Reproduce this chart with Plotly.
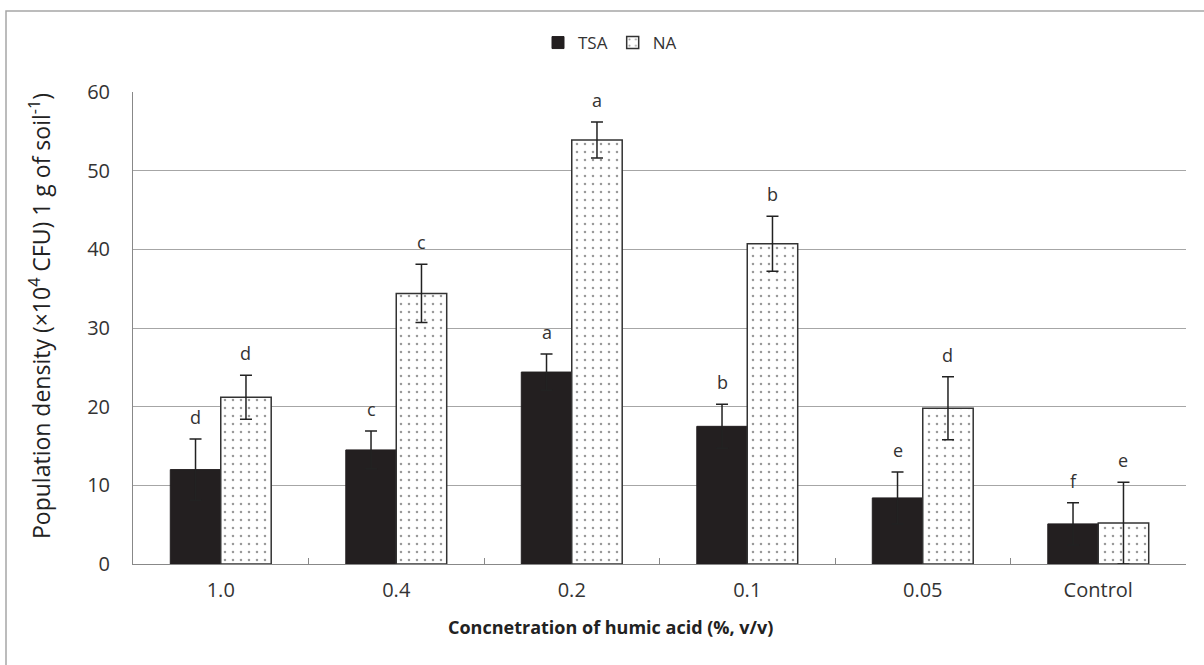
import plotly.graph_objects as go

categories = ["1.0", "0.4", "0.2", "0.1", "0.05", "Control"]
tsa_values = [12.0, 14.5, 24.4, 17.5, 8.4, 5.1]
tsa_errors = [3.9, 2.4, 2.3, 2.8, 3.3, 2.7]
tsa_letters = ["d", "c", "a", "b", "e", "f"]
na_values = [21.2, 34.4, 53.9, 40.7, 19.8, 5.2]
na_errors = [2.8, 3.7, 2.3, 3.5, 4.0, 5.2]
na_letters = ["d", "c", "a", "b", "d", "e"]

W, H = 1204, 665
L, R, T, B = 133, 18, 92, 101
pw, ph = W - L - R, H - T - B

def px_x(p):
    return (p - L) / pw

def px_y(p):
    return (H - B - p) / ph

font_family = "Open Sans, DejaVu Sans, sans-serif"
txt_color = "#333333"

fig = go.Figure()
fig.add_trace(go.Bar(
    name="TSA", x=categories, y=tsa_values,
    marker=dict(color="#231f20", line=dict(color="#231f20", width=1)),
    error_y=dict(type="data", array=tsa_errors, visible=True,
                 color="#222222", thickness=1.5, width=6),
))
fig.add_trace(go.Bar(
    name="NA", x=categories, y=na_values,
    marker=dict(color="white", line=dict(color="#333333", width=1.5),
                pattern=dict(shape=".", fgcolor="#333333", bgcolor="white",
                             size=8, solidity=0.08)),
    error_y=dict(type="data", array=na_errors, visible=True,
                 color="#222222", thickness=1.5, width=6),
))

annotations = []
for i, (v, e, lab) in enumerate(zip(tsa_values, tsa_errors, tsa_letters)):
    annotations.append(dict(x=i, y=v + e, text=lab, showarrow=False,
                            xshift=-25, yshift=8, yanchor="bottom",
                            font=dict(family=font_family, size=18, color=txt_color)))
for i, (v, e, lab) in enumerate(zip(na_values, na_errors, na_letters)):
    annotations.append(dict(x=i, y=v + e, text=lab, showarrow=False,
                            xshift=25, yshift=8, yanchor="bottom",
                            font=dict(family=font_family, size=18, color=txt_color)))

annotations.append(dict(
    xref="paper", yref="paper", x=px_x(610), y=px_y(627),
    text="<b>Concnetration of humic acid (%, v/v)</b>", showarrow=False,
    xanchor="center", yanchor="middle",
    font=dict(family=font_family, size=18, color="#222222")))
annotations.append(dict(
    xref="paper", yref="paper", x=px_x(40), y=px_y(316),
    text="Population density (×10<sup>4</sup> CFU) 1 g of soil<sup>-1</sup>)",
    showarrow=False, textangle=-90, xanchor="center", yanchor="middle",
    font=dict(family=font_family, size=23, color="#222222")))

fig.update_layout(
    width=W, height=H,
    margin=dict(l=L, r=R, t=T, b=B),
    paper_bgcolor="white", plot_bgcolor="white",
    barmode="group", bargap=0.425, bargroupgap=0,
    showlegend=True,
    legend=dict(orientation="h", x=px_x(610), xanchor="center",
                y=px_y(43), yanchor="middle",
                font=dict(family=font_family, size=17, color=txt_color),
                itemwidth=30, tracegroupgap=0),
    annotations=annotations,
    shapes=[dict(type="path", xref="paper", yref="paper",
                 path=f"M {px_x(6)} {px_y(700)} L {px_x(6)} {px_y(11)} L {px_x(1210)} {px_y(11)}",
                 line=dict(color="#a6a6a6", width=1.5))],
    font=dict(family=font_family, color=txt_color),
)
fig.update_xaxes(
    type="category", showline=True, linecolor="#888888", linewidth=1,
    ticks="inside", tickson="boundaries", ticklen=6, tickcolor="#888888",
    tickfont=dict(family=font_family, size=20, color=txt_color),
    ticklabelstandoff=8, showgrid=False,
)
fig.update_yaxes(
    range=[0, 60], dtick=10, showline=True, linecolor="#888888", linewidth=1,
    gridcolor="#a6a6a6", gridwidth=1, ticks="", zeroline=False,
    tickfont=dict(family=font_family, size=20, color=txt_color),
    ticklabelstandoff=18,
)

fig.write_html("out.html", config={"displayModeBar": False},
               post_script="document.body.style.margin='0';document.body.style.overflow='hidden';")
